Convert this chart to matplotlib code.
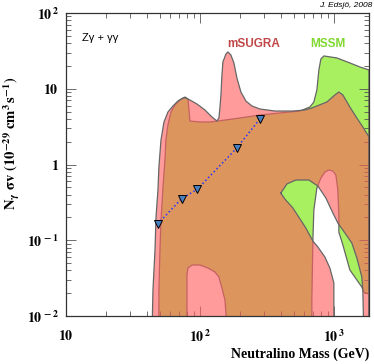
import numpy as np
import matplotlib
matplotlib.use("Agg")
import matplotlib.pyplot as plt
from matplotlib.path import Path
from matplotlib.patches import PathPatch

plt.rcParams['mathtext.fontset'] = 'stix'

# mSUGRA allowed region (outer envelope), mass in GeV, N_gamma sigma v in 1e-29 cm^3/s
msugra_mass = [43.8, 44.6, 46.2, 47.0, 48.6, 49.4, 51.2, 53.9, 57.7, 62.9, 68.5, 74.7, 78.6,
               84.2, 95.0, 109, 122.9, 134.0, 138.6, 141.0, 143.5, 146.0, 148.5, 156.3, 161.8,
               170.3, 179.4, 188.8, 202.3, 220.4, 244.4, 280.5, 362.9, 494.3, 607.6, 685,
               887, 1017, 1090, 1168, 1317, 1485, 1646, 1830, 1830]
msugra_sigma = [0.005, 0.022, 0.0743, 0.203, 0.461, 0.927, 2.11, 3.64, 4.93, 5.92, 6.89, 7.55, 7.55,
                7.10, 6.29, 5.24, 4.24, 3.75, 4.11, 5.57, 8.27, 15.2, 22.6, 28.7, 30.6,
                27.9, 21.9, 13.9, 9.06, 6.89, 5.92, 5.40, 5.08, 5.08, 5.24, 5.57,
                6.69, 8.27, 9.06, 8.27, 5.74, 4.11, 3.13, 2.31, 0.005]

# part of the envelope not reached by mSUGRA
msugra_gap_mass = [402, 446, 520, 651, 760, 872, 983, 1071, 1208, 1362, 1485, 1618, 1646, 1675,
                   1000, 1000, 934, 857, 760, 697, 618, 494, 431]
msugra_gap_sigma = [0.420, 0.553, 0.624, 0.624, 0.520, 0.361, 0.229, 0.169, 0.125, 0.0920, 0.0583,
                    0.0327, 0.0220, 0.005, 0.005, 0.0273, 0.0430, 0.0601, 0.0814, 0.0977, 0.145,
                    0.267, 0.350]

# MSSM allowed region (outer envelope)
mssm_mass = [49.4, 49.4, 50.3, 51.2, 53.0, 54.8, 55.7, 57.7, 60.8, 65.1, 70.9, 77.3, 81.4, 82.8,
             84.2, 100, 118.7, 136.2, 198.9, 280.5, 395.5, 557.6, 662, 709, 746.8, 773, 800,
             842, 1053, 1317, 1563, 1830, 1830]
mssm_sigma = [0.005, 0.022, 0.0743, 0.185, 0.505, 1.15, 2.11, 3.32, 4.93, 6.10, 7.10, 7.78, 7.32,
              5.40, 3.75, 3.64, 3.64, 3.75, 4.11, 4.50, 4.79, 5.08, 5.74, 6.69, 9.63, 17.7, 24.7,
              27.1, 25.5, 21.9, 19.4, 17.7, 0.005]

# parts of the envelope not reached by MSSM
mssm_gap_mass = [685, 685, 697, 709, 747, 800, 857, 918, 983, 1035, 1071, 1090, 1090, 1168, 1317,
                 1618, 1675, 1830, 1830]
mssm_gap_sigma = [0.005, 0.0163, 0.0977, 0.251, 0.490, 0.663, 0.796, 0.846, 0.821, 0.727, 0.461,
                  0.215, 0.128, 0.0866, 0.0405, 0.0241, 0.0207, 0.0195, 0.005]
mssm_gap2_mass = [80.0, 80.0, 81.4, 87.2, 100, 114.7, 129.4, 138.6, 146.0, 153.7, 161.8]
mssm_gap2_sigma = [0.005, 0.0348, 0.0430, 0.0471, 0.0471, 0.0430, 0.0381, 0.0327, 0.0234,
                   0.0163, 0.005]

# benchmark models
bench_mass = [48.3, 73.0, 95.5, 188, 280]
bench_sigma = [0.164, 0.354, 0.471, 1.64, 3.99]

xticks = [10, 100, 1000]
xtick_labels = [r'$\mathbf{10}$', r'$\mathbf{10^{\,2}}$', r'$\mathbf{10^{\,3}}$']
yticks = [0.01, 0.1, 1, 10, 100]
ytick_labels = [r'$\mathbf{10^{\,-2}}$', r'$\mathbf{10^{\,-1}}$', r'$\mathbf{1}$',
                r'$\mathbf{10}$', r'$\mathbf{10^{\,2}}$']

green = '#a8f060'
red = (1.0, 0.37, 0.37)
edge = '#666666'


def signed_area(x, y):
    lx, ly = np.log10(x), np.log10(y)
    return 0.5 * np.sum(lx * np.roll(ly, -1) - np.roll(lx, -1) * ly)


def holed_path(ox, oy, hx, hy):
    outer = np.column_stack([ox, oy])
    hole = np.column_stack([hx, hy])
    if np.sign(signed_area(ox, oy)) == np.sign(signed_area(hx, hy)):
        hole = hole[::-1]
    verts = np.vstack([outer, outer[:1], hole, hole[:1]])
    codes = ([Path.MOVETO] + [Path.LINETO] * (len(outer) - 1) + [Path.CLOSEPOLY] +
             [Path.MOVETO] + [Path.LINETO] * (len(hole) - 1) + [Path.CLOSEPOLY])
    return Path(verts, codes)


fig = plt.figure(figsize=(3.74, 3.64), dpi=100)
ax = fig.add_axes([66 / 374, 48 / 364, 303 / 374, 303 / 364])
ax.set_xscale('log')
ax.set_yscale('log')

# MSSM (opaque green, with its gaps cut out in white)
ax.fill(mssm_mass, mssm_sigma, color=green, lw=0, zorder=1)
ax.fill(mssm_gap_mass, mssm_gap_sigma, color='white', lw=0, zorder=1.1)
ax.fill(mssm_gap2_mass, mssm_gap2_sigma, color='white', lw=0, zorder=1.1)
for mx, my in [(mssm_mass, mssm_sigma), (mssm_gap_mass, mssm_gap_sigma),
               (mssm_gap2_mass, mssm_gap2_sigma)]:
    ax.plot(list(mx) + [mx[0]], list(my) + [my[0]], color=edge, lw=0.9, zorder=1.2)

# mSUGRA (translucent red on top -> pink / orange overlap)
p = holed_path(msugra_mass, msugra_sigma, msugra_gap_mass, msugra_gap_sigma)
ax.add_patch(PathPatch(p, facecolor=red, alpha=0.62, lw=0, zorder=2))
for mx, my in [(msugra_mass, msugra_sigma), (msugra_gap_mass, msugra_gap_sigma)]:
    ax.plot(list(mx) + [mx[0]], list(my) + [my[0]], color=edge, lw=0.9, zorder=2.1)

ax.plot(bench_mass, bench_sigma, ls=':', color='#2233ff', lw=1.1, zorder=3)
ax.plot(bench_mass, bench_sigma, ls='none', marker='v', ms=6, mfc='#4a80c0', mec='black',
        mew=0.7, zorder=4)

ax.set_xlim(10, 1830)
ax.set_ylim(0.01, 100)
ax.set_xticks(xticks)
ax.set_xticklabels(xtick_labels)
ax.set_yticks(yticks)
ax.set_yticklabels(ytick_labels)
ax.tick_params(which='both', direction='in', top=True, right=True, colors='#555555',
               width=0.6, labelcolor='black', labelsize=10)
ax.tick_params(which='major', length=7)
ax.tick_params(which='minor', length=3.5)
ax.tick_params(axis='x', pad=9)
ax.tick_params(axis='y', pad=5)
for s in ax.spines.values():
    s.set_color('#333333')
    s.set_linewidth(0.9)

ax.set_xlabel('Neutralino Mass (GeV)', fontfamily='Liberation Serif', fontweight='bold',
              fontsize=10, ha='right')
ax.xaxis.set_label_coords(1.0, -0.105)
ax.set_ylabel(r'$\mathbf{N_{\gamma}\ \sigma v\ (10^{-29}\ cm^{3}\,s^{-1})}$', fontsize=10.5)
ax.yaxis.set_label_coords(-0.145, 0.571)

ax.text(0.053, 0.917, 'Zγ + γγ', transform=ax.transAxes, fontsize=8,
        fontfamily='Liberation Sans', va='center', ha='left')
ax.text(0.62, 0.897, 'mSUGRA', transform=ax.transAxes, fontsize=8.5, fontweight='bold',
        color='#c04848', fontfamily='Liberation Sans', va='center', ha='center')
ax.text(0.863, 0.897, 'MSSM', transform=ax.transAxes, fontsize=8.5, fontweight='bold',
        color='#80d830', fontfamily='Liberation Sans', va='center', ha='center')
fig.text(0.995, 0.984, 'J. Edsjö, 2008', fontsize=6, style='italic',
         fontfamily='Liberation Sans', ha='right', va='center')

fig.savefig('out.png', dpi=100)
